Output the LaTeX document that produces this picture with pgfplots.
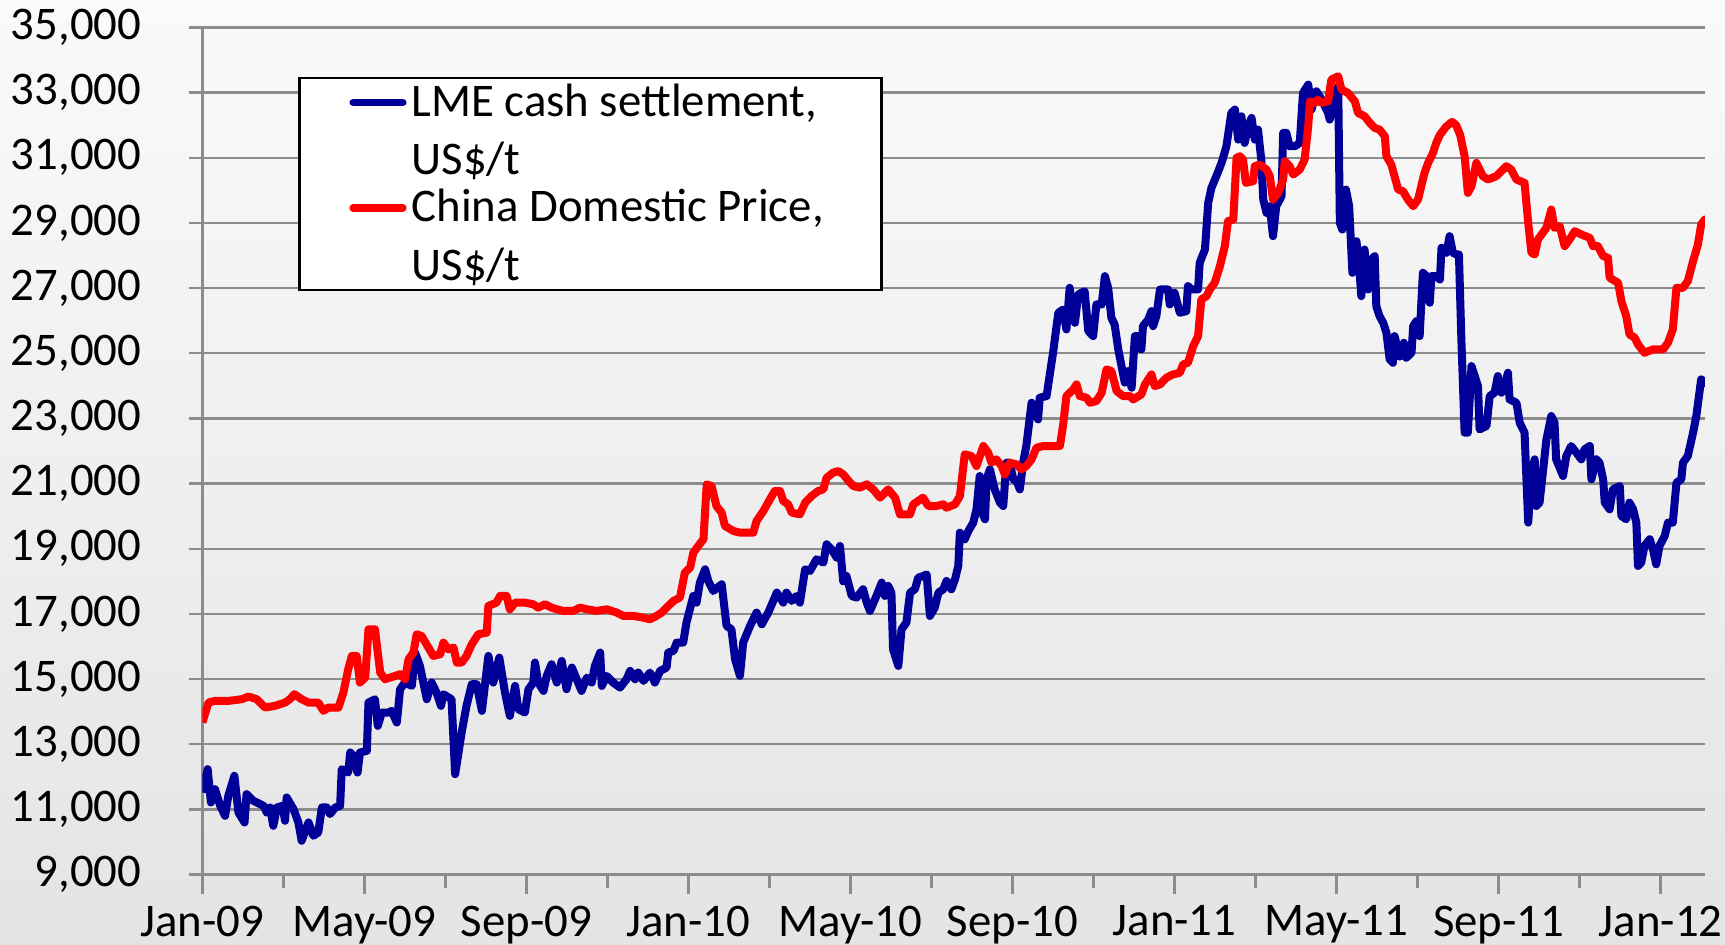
\documentclass[border=0pt]{standalone}
\usepackage{fontspec}
\setmainfont{Carlito}
\usepackage{pgfplots}
\pgfplotsset{compat=1.18}
\definecolor{lme}{RGB}{0,0,153}
\definecolor{cdp}{RGB}{255,0,0}
\definecolor{gridc}{RGB}{140,140,140}
\definecolor{bgtop}{RGB}{250,250,250}
\definecolor{bgbot}{RGB}{228,228,228}
\pgfplotstableread{
m v
0.00 11520
0.13 12236
0.21 11213
0.31 11622
0.44 11111
0.56 10804
0.64 11418
0.79 12031
0.89 10907
1.04 10600
1.09 11469
1.26 11264
1.51 11111
1.59 10906
1.67 11060
1.75 10498
1.84 11060
1.98 11111
2.04 10651
2.08 11367
2.25 11009
2.37 10600
2.45 10038
2.62 10600
2.74 10191
2.86 10293
2.95 11060
3.07 11060
3.15 10855
3.28 11060
3.40 11111
3.44 12236
3.60 12133
3.65 12747
3.73 12645
3.83 12133
3.89 12747
4.06 12798
4.10 14280
4.26 14382
4.33 13565
4.43 13973
4.59 13973
4.67 14025
4.80 13667
4.88 14689
5.00 14894
5.17 14791
5.25 15814
5.37 15405
5.54 14382
5.66 14894
5.78 14587
5.89 14178
5.95 14536
6.15 14382
6.24 12082
6.40 13360
6.52 14178
6.65 14842
6.77 14842
6.90 14025
7.06 15711
7.18 14894
7.33 15660
7.47 14587
7.59 13871
7.72 14791
7.80 14076
7.96 13974
8.05 14689
8.17 14894
8.21 15507
8.29 14894
8.42 14638
8.50 15098
8.62 15456
8.75 14894
8.87 15558
8.99 14689
9.12 15354
9.24 14996
9.36 14638
9.49 15047
9.61 14894
9.69 15405
9.82 15814
9.86 14792
9.98 15098
10.14 14894
10.31 14740
10.47 14996
10.56 15252
10.68 14996
10.76 15201
10.89 14945
11.05 15201
11.17 14894
11.30 15252
11.46 15354
11.50 15814
11.63 15865
11.71 16121
11.87 16121
11.95 16734
12.12 17552
12.20 17347
12.28 17961
12.41 18370
12.49 18012
12.61 17705
12.82 17910
12.94 16632
13.06 16530
13.15 15610
13.27 15098
13.35 16121
13.52 16632
13.68 17041
13.81 16683
13.97 17041
14.18 17654
14.34 17347
14.42 17654
14.55 17399
14.67 17552
14.75 17347
14.88 18370
15.00 18319
15.16 18677
15.33 18574
15.41 19137
15.53 18983
15.66 18728
15.74 19085
15.82 18000
15.90 18165
16.03 17552
16.15 17501
16.31 17757
16.40 17348
16.48 17092
16.64 17552
16.77 17961
16.85 17552
16.93 17859
17.01 17654
17.05 15916
17.18 15405
17.26 16530
17.38 16734
17.47 17654
17.59 17757
17.67 18114
17.80 18165
17.88 18216
17.96 16939
18.08 17194
18.17 17654
18.29 17757
18.37 18012
18.49 17757
18.58 18063
18.66 18472
18.70 19494
18.82 19290
18.91 19546
19.03 19801
19.11 20210
19.19 21232
19.28 20006
19.32 19903
19.36 21130
19.44 21437
19.56 20823
19.69 20415
19.77 20312
19.85 21641
19.93 21641
20.02 21130
20.10 21079
20.18 20823
20.26 21641
20.34 22153
20.47 23481
20.63 22970
20.67 23635
20.84 23686
20.92 24350
21.00 25015
21.13 26242
21.25 26344
21.33 25731
21.41 27008
21.54 25935
21.62 26804
21.78 26906
21.87 25680
21.99 25526
22.07 26497
22.20 26497
22.28 27366
22.36 27008
22.44 26088
22.52 25884
22.61 25117
22.69 24606
22.77 24100
22.85 24452
22.94 23941
23.02 25526
23.10 25526
23.18 25117
23.22 25833
23.35 26037
23.43 26293
23.47 25833
23.55 26140
23.64 26957
23.72 26957
23.84 26957
23.88 26497
24.00 26855
24.13 26242
24.29 26293
24.33 27060
24.42 26957
24.58 26957
24.62 27775
24.75 28184
24.83 29615
24.91 30075
25.03 30433
25.16 30842
25.28 31353
25.40 32375
25.49 32478
25.57 31557
25.65 32273
25.73 31455
25.82 31966
25.90 32222
25.98 31557
26.06 31864
26.14 30944
26.19 29717
26.27 29308
26.35 29513
26.43 28593
26.51 29513
26.64 29820
26.68 31762
26.76 31762
26.84 31353
26.97 31353
27.09 31455
27.17 32989
27.30 33244
27.38 32478
27.50 33040
27.58 32887
27.67 32682
27.79 32375
27.83 32171
27.95 32784
28.04 33193
28.08 29002
28.14 28797
28.23 30024
28.31 29513
28.39 27468
28.49 28439
28.55 27775
28.61 26753
28.69 28184
28.78 26957
28.86 27877
28.94 27979
28.98 26446
29.06 26139
29.15 25935
29.23 25628
29.31 24810
29.39 24708
29.43 25526
29.56 24900
29.66 25322
29.72 24862
29.85 25015
29.89 25833
29.97 25986
30.05 25526
30.13 27469
30.22 27367
30.30 26549
30.34 27367
30.46 27367
30.55 27264
30.59 28236
30.71 28082
30.79 28593
30.87 28082
30.96 28031
31.02 28031
31.08 25424
31.16 22562
31.24 22562
31.33 24606
31.49 23993
31.53 22664
31.70 22766
31.78 23686
31.90 23789
31.98 24300
32.07 23789
32.15 23993
32.23 24402
32.27 23584
32.44 23482
32.52 22868
32.64 22562
32.73 19802
32.81 21335
32.89 21744
32.93 20313
33.01 20415
33.18 22357
33.30 23073
33.38 22868
33.42 21744
33.59 21233
33.67 21845
33.79 22153
33.92 21948
34.04 21744
34.12 22051
34.25 22153
34.29 21131
34.41 21744
34.49 21642
34.58 21131
34.62 20415
34.74 20211
34.82 20824
34.99 20926
35.03 20006
35.15 19904
35.23 20415
35.32 20211
35.40 19802
35.44 18473
35.52 18575
35.60 19087
35.73 19292
35.81 18985
35.89 18524
35.97 19087
36.10 19394
36.18 19802
36.30 19802
36.39 21028
36.51 21131
36.55 21642
36.67 21846
36.80 22562
36.88 23073
37.00 24198
37.09 24095
37.13 23993
}\lmedata
\pgfplotstableread{
m v
0.00 13667
0.15 14280
0.31 14331
0.64 14331
0.97 14382
1.14 14464
1.34 14382
1.55 14127
1.79 14178
2.04 14280
2.16 14382
2.27 14536
2.45 14382
2.62 14280
2.86 14280
2.99 14025
3.11 14127
3.36 14127
3.48 14587
3.60 15302
3.69 15711
3.81 15711
3.89 14894
4.02 15047
4.10 16529
4.26 16529
4.39 15200
4.51 14996
4.76 15098
4.88 15149
5.00 14996
5.09 15609
5.21 15814
5.29 16376
5.41 16325
5.58 15967
5.70 15711
5.87 15762
5.95 16120
6.07 15916
6.20 15967
6.28 15507
6.40 15507
6.52 15711
6.65 16069
6.81 16376
7.02 16427
7.06 17245
7.26 17347
7.35 17552
7.51 17552
7.59 17143
7.72 17347
7.96 17347
8.17 17296
8.29 17194
8.46 17296
8.62 17194
8.75 17143
8.91 17092
9.16 17092
9.32 17194
9.49 17143
9.73 17092
9.98 17143
10.23 17041
10.39 16939
10.64 16939
10.88 16887
11.05 16836
11.21 16939
11.34 17041
11.46 17194
11.63 17399
11.79 17501
11.91 18268
12.04 18421
12.12 18881
12.24 19085
12.37 19290
12.45 20976
12.57 20925
12.69 20312
12.82 20108
12.90 19699
13.11 19545
13.27 19494
13.60 19494
13.68 19852
13.85 20159
14.01 20517
14.13 20772
14.26 20772
14.34 20465
14.46 20363
14.55 20108
14.75 20057
14.88 20414
15.04 20619
15.20 20772
15.33 20823
15.41 21181
15.57 21334
15.70 21385
15.82 21283
15.99 21028
16.07 20926
16.23 20874
16.40 20977
16.56 20823
16.73 20568
16.93 20823
17.10 20568
17.22 20057
17.47 20057
17.55 20363
17.79 20568
17.92 20312
18.12 20312
18.29 20363
18.37 20261
18.58 20363
18.70 20619
18.82 21897
18.99 21846
19.11 21539
19.28 22153
19.40 21948
19.48 21641
19.60 21743
19.73 21539
19.81 21283
19.93 21641
20.10 21590
20.22 21437
20.34 21539
20.47 21743
20.59 22101
20.76 22153
20.92 22153
21.17 22153
21.25 22817
21.33 23686
21.50 23890
21.58 24044
21.66 23686
21.83 23635
21.91 23481
22.07 23533
22.20 23788
22.32 24504
22.44 24453
22.57 23839
22.73 23686
22.90 23686
22.98 23583
23.18 23737
23.27 24044
23.43 24350
23.51 23992
23.64 24044
23.80 24248
23.96 24350
24.13 24401
24.21 24657
24.33 24708
24.46 25219
24.58 25526
24.66 26650
24.79 26753
24.87 26957
24.99 27162
25.12 27673
25.24 28286
25.32 29053
25.45 29104
25.53 30995
25.61 31046
25.69 30944
25.76 30229
25.94 30280
25.98 30740
26.10 30791
26.27 30637
26.35 30433
26.43 29717
26.56 29922
26.68 30331
26.72 30893
26.84 30740
26.93 30484
27.09 30637
27.21 30944
27.30 31966
27.34 32733
27.46 32682
27.54 32784
27.63 32682
27.79 32733
27.87 33398
28.04 33500
28.12 33091
28.28 32989
28.45 32733
28.53 32375
28.69 32273
28.82 32069
28.94 31915
29.06 31864
29.19 31660
29.23 31046
29.35 30791
29.43 30433
29.52 30024
29.64 29973
29.76 29717
29.89 29513
30.01 29717
30.17 30536
30.26 30842
30.38 31149
30.46 31456
30.55 31700
30.70 31950
30.85 32100
30.95 32000
31.05 31700
31.16 31047
31.24 29922
31.33 30127
31.45 30842
31.61 30433
31.74 30331
31.94 30433
32.19 30740
32.31 30638
32.44 30331
32.64 30229
32.73 29002
32.81 28082
32.89 28031
32.97 28491
33.18 28849
33.30 29411
33.38 28849
33.51 28900
33.63 28287
33.75 28491
33.88 28747
34.04 28645
34.25 28542
34.33 28287
34.45 28287
34.58 27980
34.70 27929
34.74 27316
34.95 27162
35.03 26600
35.15 26140
35.23 25578
35.36 25476
35.44 25271
35.60 25015
35.81 25118
36.06 25118
36.18 25322
36.30 25731
36.39 27009
36.55 27009
36.67 27213
36.80 27827
36.92 28338
37.00 28951
37.09 29105
37.13 29084
}\cdpdata
\newcommand\legtext[2]{\raisebox{1.0pt}{\parbox[b]{117.5pt}{\rule{0pt}{9.6pt}#1\\\raisebox{0pt}[\height][0pt]{#2}}}}
\begin{document}
\begin{tikzpicture}
\shade[top color=bgtop, bottom color=bgbot] (-50.6pt,-17.35pt) rectangle (380.65pt,218.65pt);
\useasboundingbox (-50.6pt,-17.35pt) rectangle (380.65pt,218.65pt);
\begin{axis}[
  at={(0pt,0pt)}, anchor=south west,
  scale only axis, width=375.6pt, height=211.8pt,
  xmin=0, xmax=37.09, ymin=9000, ymax=35000,
  axis x line*=bottom, axis y line*=left,
  axis line style={gridc, line width=0.6pt},
  ytick={9000,11000,...,35000},
  xtick={0,4,...,36},
  xticklabels={Jan-09,May-09,Sep-09,Jan-10,May-10,Sep-10,Jan-11,May-11,Sep-11,Jan-12},
  minor xtick={2,6,...,34},
  tick align=outside,
  xtick style={gridc, line width=0.6pt, /pgfplots/major tick length=4.75pt, /pgfplots/minor tick length=3.25pt},
  ytick style={gridc, line width=0.6pt, /pgfplots/major tick length=3.3pt},
  ymajorgrids,
  major grid style={gridc, line width=0.6pt},
  tick label style={font=\fontsize{11.7}{14}\selectfont, black},
  yticklabel style={xshift=-7.5pt},
  scaled y ticks=false,
  /pgf/number format/.cd, 1000 sep={,}, assume math mode=true, /pgfplots/.cd,
  legend cell align=left,
  legend image code/.code={\path[draw=none,fill=none] (0pt,0pt) -- (28pt,0pt); \draw[#1,line width=1.9pt,line cap=round] (13.4pt,19.1pt) -- (25.8pt,19.1pt);},
  legend style={at={(axis description cs:0.0639,0.9415)}, anchor=north west,
    draw=black, line width=0.6pt, fill=white, inner sep=0pt, row sep=-0.4pt, column sep=0pt,
    font=\fontsize{11.7}{14.6}\selectfont,
    nodes={inner sep=0pt, anchor=base west},
    cells={anchor=base west}},
]
\addplot[lme, line width=2pt, line join=round] table[x=m, y=v] {\lmedata};
\addlegendentry{\legtext{LME cash settlement,}{US\$/t}}
\addplot[cdp, line width=2pt, line join=round] table[x=m, y=v] {\cdpdata};
\addlegendentry{\legtext{China Domestic Price,}{US\$/t}}
\end{axis}
\end{tikzpicture}
\end{document}
